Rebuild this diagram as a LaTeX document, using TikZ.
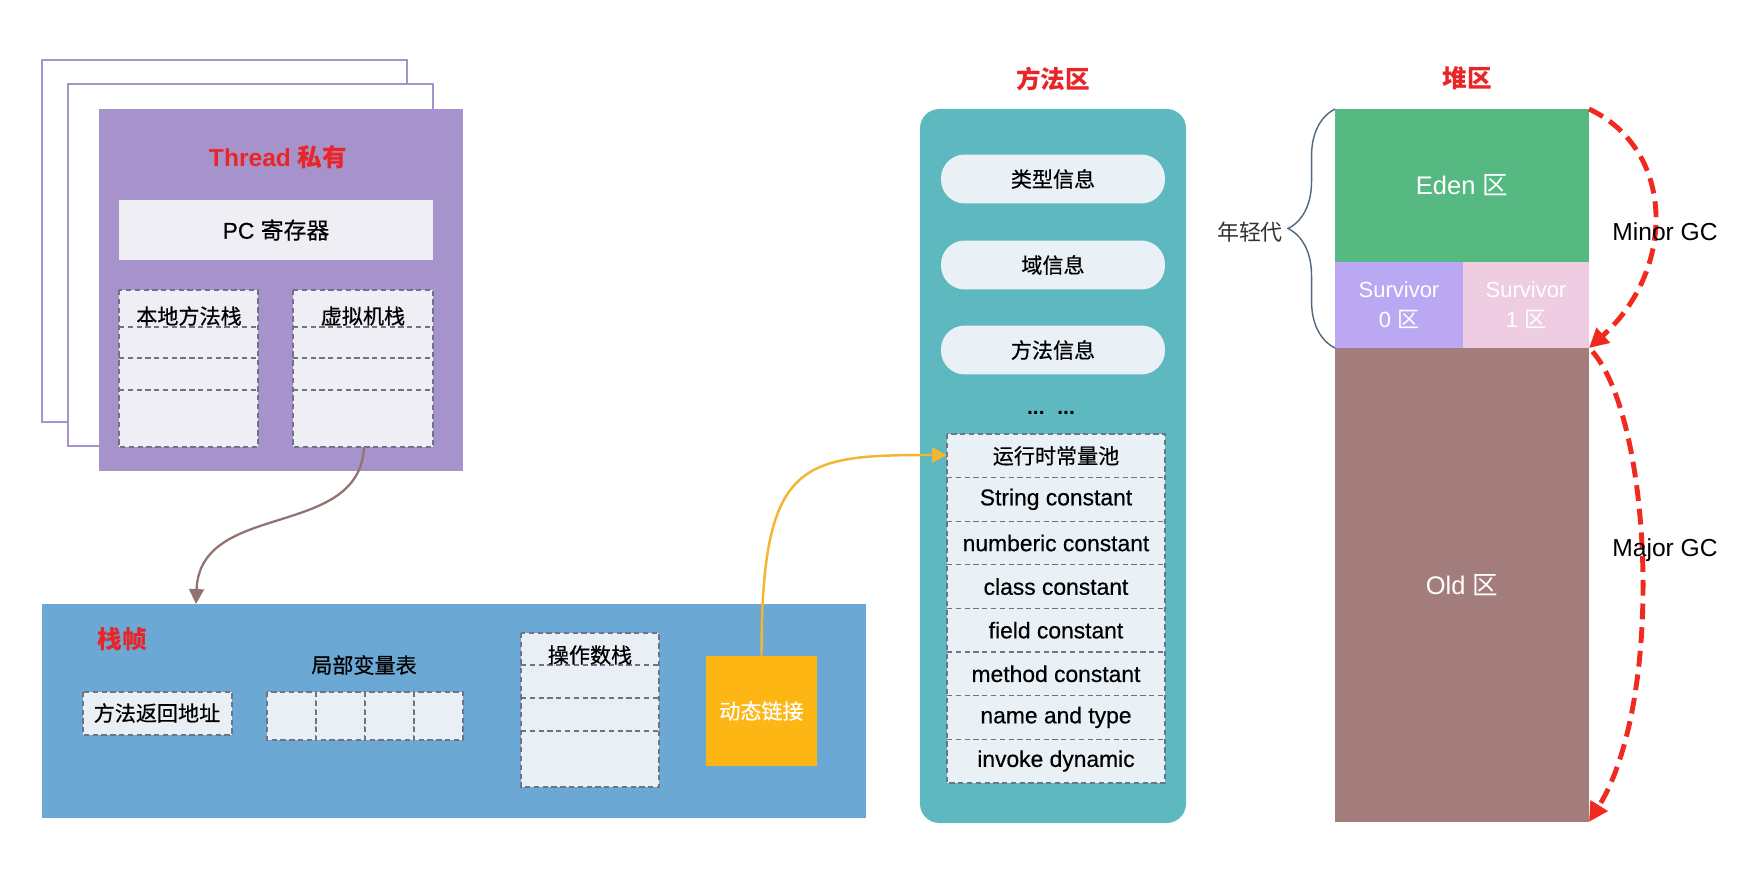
\documentclass[tikz,border=0pt]{standalone}
\usepackage{fontspec}
\setmainfont{Liberation Sans}
\newfontfamily\cjk{Noto Sans CJK SC}
\newfontfamily\cjkm{Noto Sans CJK SC}[FakeBold=0.5]
\newfontfamily\latm{Liberation Sans}[FakeBold=0.5]
\usepackage{xcolor}
\usetikzlibrary{arrows.meta}
\usetikzlibrary{decorations.pathreplacing}

\definecolor{threadpurple}{HTML}{A693CB}
\definecolor{lightbox}{HTML}{EEEEF4}
\definecolor{dashgray}{HTML}{6E7385}
\definecolor{frameblue}{HTML}{6BA8D3}
\definecolor{cellfill}{HTML}{E9EFF5}
\definecolor{linkorange}{HTML}{FDB614}
\definecolor{arroworange}{HTML}{F4B531}
\definecolor{methodteal}{HTML}{5DB8C0}
\definecolor{pillfill}{HTML}{E9F1F6}
\definecolor{edengreen}{HTML}{56B982}
\definecolor{survpurple}{HTML}{BBA8F2}
\definecolor{survpink}{HTML}{EECDE2}
\definecolor{oldbrown}{HTML}{A37D7C}
\definecolor{titlered}{HTML}{E8262A}
\definecolor{gcred}{HTML}{F02A1E}
\definecolor{linkbrown}{HTML}{937272}
\definecolor{bracegray}{HTML}{50677E}
\definecolor{darktext}{HTML}{333333}

\tikzset{
  stackbox/.style={draw=dashgray, line width=0.6pt, densely dashed, fill=lightbox},
  rowline/.style={dashgray, line width=0.6pt, densely dashed},
  cntxt/.style={font=\cjkm\fontsize{12}{14}\selectfont},
  entxt/.style={font=\latm\fontsize{13}{15}\selectfont},
  redtitle/.style={text=titlered, font=\bfseries\fontsize{14}{16}\selectfont},
  pill/.style={fill=pillfill, rounded corners=13.5pt, minimum width=4.48cm, minimum height=0.98cm},
  heapbox/.style={inner sep=0pt, outer sep=0pt, text=white, align=center},
  gcarrow/.style={gcred, line width=2.8pt, dash pattern=on 9pt off 4.5pt, -{Triangle[length=11pt,width=11pt]}},
  gctxt/.style={font=\fontsize{14}{16}\selectfont}
}

\begin{document}
\begin{tikzpicture}[x=0.02cm, y=-0.02cm]
            \useasboundingbox (0,0) rectangle (1754,874);
            % Thread
            \draw[threadpurple, line width=1.4pt, fill=white] (42,60) rectangle (407,422);
            \draw[threadpurple, line width=1.4pt, fill=white] (68,84) rectangle (433,446);
            \fill[threadpurple] (99,109) rectangle (463,471);
            \fill[lightbox] (119,200) rectangle (433,260);
            \draw[stackbox] (119,290) rectangle (258,447);
            \draw[stackbox] (293,290) rectangle (433,447);
            \foreach \y in {327,358,390}{
                \draw[rowline] (119,\y) -- (258,\y);
                \draw[rowline] (293,\y) -- (433,\y);
            }
            \node[redtitle] (A) at (278,157){Thread {\cjk 私有}};
            \node[entxt] (B) at (276,230){PC {\cjkm 寄存器}};
            \node[cntxt] (C) at (189,316){本地方法栈};
            \node[cntxt] (D) at (363,316){虚拟机栈};
            % Stack frame
            \fill[frameblue] (42,604) rectangle (866,818);
            \draw[stackbox, fill=cellfill] (83,692) rectangle (232,735);
            \foreach \x in {267,316,365,414}
                \draw[stackbox, fill=cellfill] (\x,692) rectangle ++(49,48);
            \draw[stackbox, fill=cellfill] (521,633) rectangle (659,787);
            \foreach \y in {665,698,731}
                \draw[rowline] (521,\y) -- (659,\y);
            \node[redtitle] (E) at (122,639){\cjk 栈帧};
            \node[cntxt] (F) at (364,665){局部变量表};
            \node[cntxt] (G) at (157,713){方法返回地址};
            \node[cntxt] (H) at (590,655){操作数栈};
            \node[cntxt, fill=linkorange, text=white, minimum width=2.22cm, minimum height=2.2cm] (I) at (761.5,711){动态链接};
            % Method area
            \node[redtitle] (J) at (1053,79){\cjk 方法区};
            \fill[methodteal, rounded corners=11pt] (920,109) rectangle (1186,823);
            \foreach \y/\t [count=\i] in {179/类型信息, 265/域信息, 350/方法信息}
                \node[cntxt, pill] (K\i) at (1053,\y){\t};
            \node[font=\bfseries\fontsize{12}{14}\selectfont] (L) at (1051,413){...\hspace{0.6em}...};
            \draw[stackbox, fill=pillfill] (947,434) rectangle (1165,783);
            \foreach \i in {1,...,7}
                \draw[rowline] (947,{434+43.6*\i}) -- (1165,{434+43.6*\i});
            \node[cntxt] (M1) at (1056,455.8){运行时常量池};
            \foreach \t [count=\i from 2] in {String constant, numberic constant, class constant, field constant, method constant, name and type, invoke dynamic}
                \node[entxt] (M\i) at (1056,{434+43.6*(\i-0.5)}){\t};
            % Heap
            \node[redtitle] (N) at (1467,78){\cjk 堆区};
            \node[heapbox, fill=edengreen, minimum width=5.08cm, minimum height=3.06cm, font=\fontsize{14.5}{17}\selectfont] (O) at (1462,185.5){Eden {\cjk 区}};
            \node[heapbox, fill=survpurple, minimum width=2.56cm, minimum height=1.72cm, font=\fontsize{12.5}{17}\selectfont] (P) at (1399,305){Survivor\\0 {\cjk 区}};
            \node[heapbox, fill=survpink, minimum width=2.52cm, minimum height=1.72cm, font=\fontsize{12.5}{17}\selectfont] (Q) at (1526,305){Survivor\\1 {\cjk 区}};
            \node[heapbox, fill=oldbrown, minimum width=5.08cm, minimum height=9.48cm, font=\fontsize{14.5}{17}\selectfont] (R) at (1462,585){Old {\cjk 区}};
            \draw[bracegray, line width=0.8pt, decorate, decoration={brace, amplitude=0.94cm}] (O.north west |- R.north west) -- (O.north west);
            \node[font=\cjk\fontsize{12.5}{15}\selectfont, text=darktext] (S) at (1250,232){年轻代};
            \draw[gcarrow] (O.north east) .. controls (1676,150) and (1676,270) .. (R.north east);
            \draw[gcarrow] ([xshift=2pt,yshift=-2pt]R.north east) .. controls (1652,420) and (1665,700) .. (R.south east);
            \node[gctxt] (T) at (1665,232){Minor GC};
            \node[gctxt] (U) at (1665,550){Major GC};
            % links
            \coordinate (X) at (364,447);
            \coordinate (Y) at (196,604);
            \coordinate (Z) at (947,455);
            \draw[linkbrown, line width=1.3pt, -{Triangle[length=8.5pt,width=8.5pt]}] (X) .. controls (360,540) and (200,500) .. (Y);
            \draw[arroworange, line width=1.4pt, -{Triangle[length=8.5pt,width=8.5pt]}] (I.north) .. controls (761.5,460) and (800,455) .. (Z);
\end{tikzpicture}
\end{document}
